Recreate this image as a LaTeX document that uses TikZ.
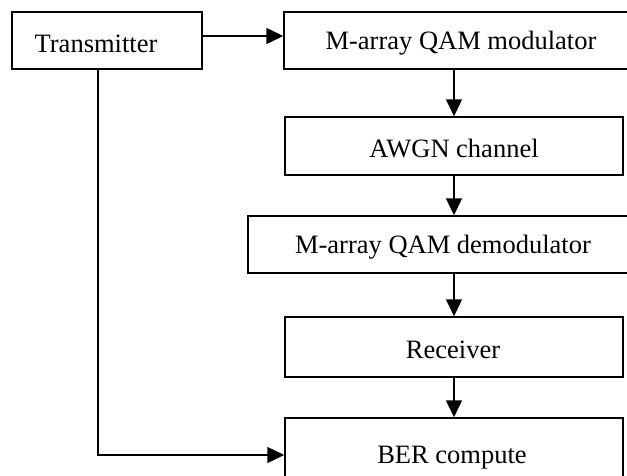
\documentclass[tikz,border=0pt]{standalone}
\usepackage{fontspec}
\setmainfont{Liberation Serif}
\usetikzlibrary{arrows.meta}
\begin{document}
\begin{tikzpicture}[x=1pt,y=-1pt,
  box/.style={draw=black, line width=1.5pt, rectangle, inner sep=0pt},
  lbl/.style={font=\fontsize{26.5}{30}\selectfont, inner sep=0pt},
  arr/.style={draw=black, line width=1.5pt, -{Triangle[length=17pt,width=16pt]}},
  ln/.style={draw=black, line width=1.5pt}]
\useasboundingbox (0,0) rectangle (627,475);
\clip (0,0) rectangle (627,475);
\fill[white] (0,0) rectangle (627,475);
% boxes
\node[box, minimum width=190pt, minimum height=57pt] (tx) at (107,40.5) {};
\node[box, minimum width=356pt, minimum height=57pt] (mod) at (462,40.5) {};
\node[box, minimum width=338pt, minimum height=58pt] (awgn) at (454,146) {};
\node[box, minimum width=412pt, minimum height=57pt] (demod) at (454,244.5) {};
\node[box, minimum width=338pt, minimum height=60pt] (rx) at (454,347) {};
\node[box, minimum width=338pt, minimum height=82pt] (ber) at (454,459) {};
% labels
\node[lbl] (txl) at (96,44) {Transmitter};
\node[lbl] (modl) at (461,43) {M-array QAM modulator};
\node[lbl] (awgnl) at (454,149) {AWGN channel};
\node[lbl] (demodl) at (443,247) {M-array QAM demodulator};
\node[lbl] (rxl) at (453,350) {Receiver};
\node[lbl] (berl) at (452,458) {BER compute};
% connectors
\draw[arr] ([yshift=4.5pt]tx.east) -- ([yshift=4.5pt]tx.east -| mod.west);
\draw[arr] (awgn.north |- mod.south) -- (awgn.north);
\draw[arr] (awgn.south) -- (awgn.south |- demod.north);
\draw[arr] (rx.north |- demod.south) -- (rx.north);
\draw[arr] (rx.south) -- (rx.south |- ber.north);
\coordinate (c) at (98,455);
\draw[arr] (tx.south -| c) -- (c) -- (c -| ber.west);
\end{tikzpicture}
\end{document}
